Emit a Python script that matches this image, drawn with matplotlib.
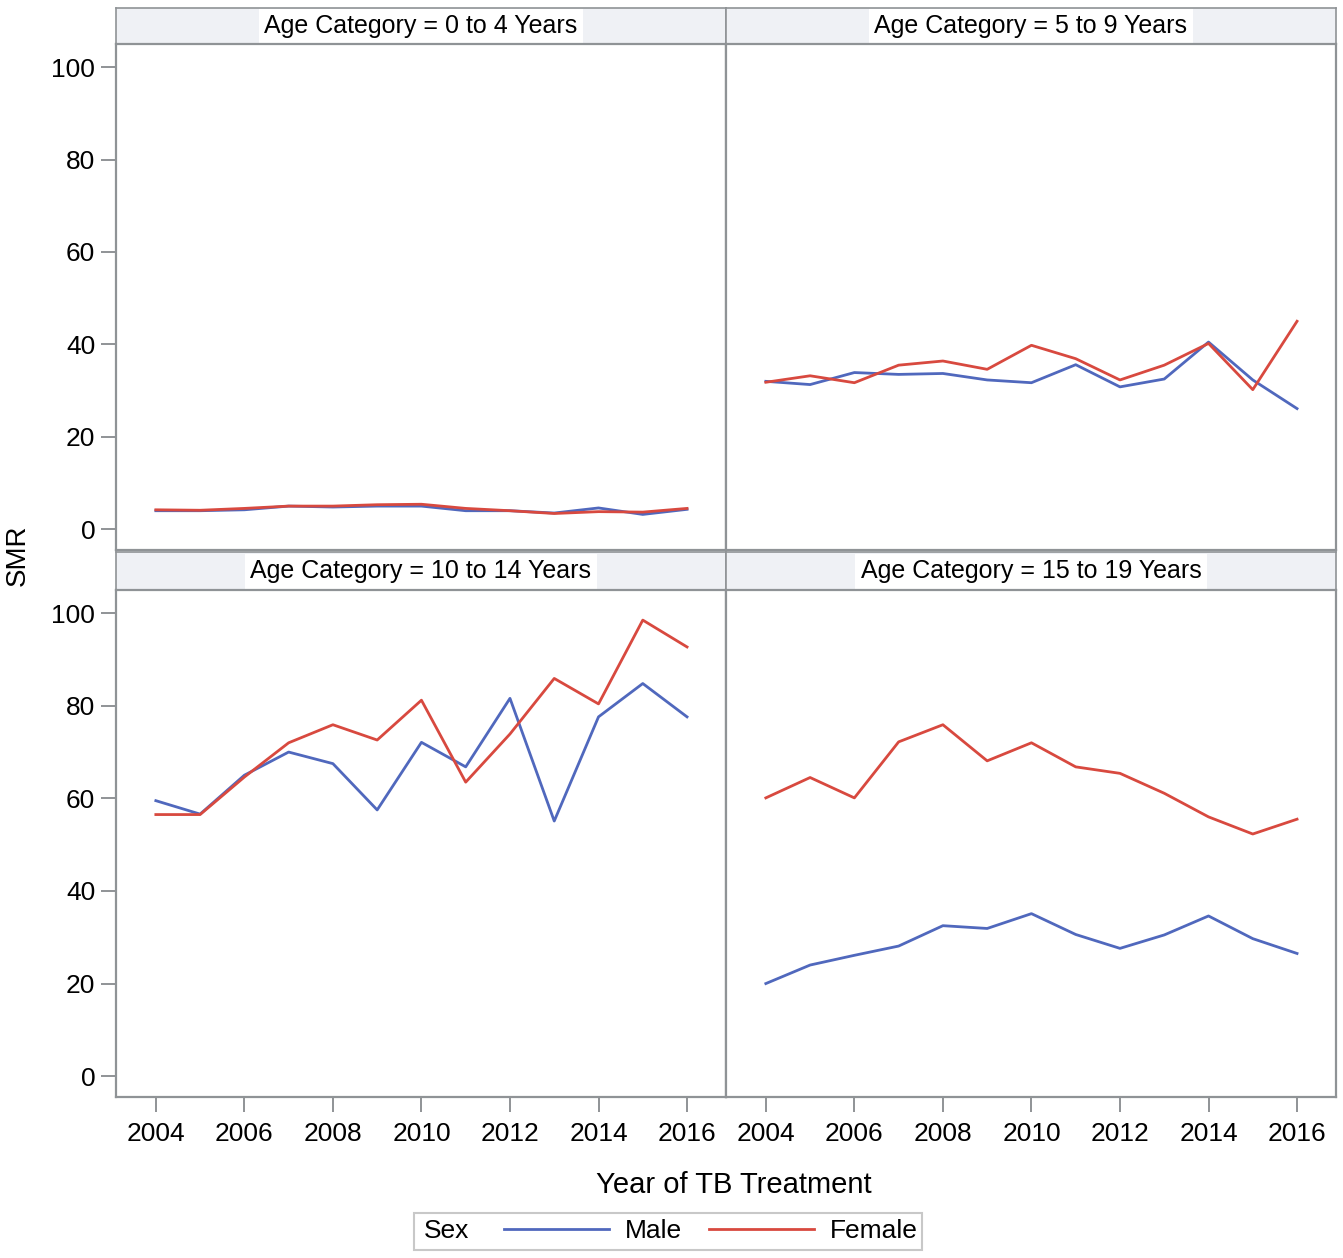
import matplotlib
matplotlib.use("Agg")
import matplotlib.pyplot as plt
from matplotlib.lines import Line2D
from matplotlib.patches import Rectangle

plt.rcParams["font.family"] = ["Liberation Sans", "DejaVu Sans"]

years = list(range(2004, 2017))
panels = ["0 to 4 Years", "5 to 9 Years", "10 to 14 Years", "15 to 19 Years"]

male_0_4 = [4.0, 4.0, 4.2, 5.0, 4.8, 5.0, 5.0, 4.0, 4.0, 3.5, 4.6, 3.2, 4.3]
female_0_4 = [4.2, 4.1, 4.5, 5.0, 5.0, 5.3, 5.4, 4.5, 4.0, 3.4, 3.8, 3.7, 4.5]
male_5_9 = [32.0, 31.3, 33.9, 33.5, 33.7, 32.3, 31.7, 35.6, 30.8, 32.5, 40.5, 32.3, 26.1]
female_5_9 = [31.8, 33.2, 31.7, 35.5, 36.4, 34.6, 39.8, 36.9, 32.3, 35.5, 40.2, 30.2, 45.0]
male_10_14 = [59.5, 56.6, 65.0, 70.0, 67.5, 57.5, 72.1, 66.8, 81.6, 55.1, 77.6, 84.8, 77.6]
female_10_14 = [56.5, 56.5, 64.6, 72.0, 75.9, 72.6, 81.2, 63.5, 73.9, 85.9, 80.4, 98.5, 92.7]
male_15_19 = [20.0, 24.0, 26.1, 28.1, 32.5, 31.9, 35.1, 30.6, 27.6, 30.5, 34.6, 29.7, 26.5]
female_15_19 = [60.1, 64.5, 60.1, 72.2, 75.9, 68.1, 72.0, 66.8, 65.4, 61.1, 56.0, 52.3, 55.5]

male = [male_0_4, male_5_9, male_10_14, male_15_19]
female = [female_0_4, female_5_9, female_10_14, female_15_19]

MALE_C = "#5068bd"
FEMALE_C = "#d8493f"
EDGE = "#8f9396"

W, H = 1343, 1258
fig = plt.figure(figsize=(W / 100, H / 100), dpi=100)


def px_box(x0, y0, x1, y1):
    return [x0 / W, 1 - y1 / H, (x1 - x0) / W, (y1 - y0) / H]


cols = [(116, 726), (726, 1336)]
rows = [((8, 44), (44, 550)), ((552, 590), (590, 1097))]

for i, name in enumerate(panels):
    r, c = divmod(i, 2)
    (hx0, hx1) = cols[c]
    (sy0, sy1), (py0, py1) = rows[r]

    strip = fig.add_axes(px_box(hx0, sy0, hx1, sy1))
    strip.set_facecolor("#eff1f5")
    strip.set_xticks([])
    strip.set_yticks([])
    for s in strip.spines.values():
        s.set_color(EDGE)
        s.set_linewidth(1.2)
    strip.text(0.5, 0.5, f"Age Category = {name}", ha="center", va="center",
               fontsize=18, transform=strip.transAxes,
               bbox=dict(facecolor="white", edgecolor="none", pad=4))

    ax = fig.add_axes(px_box(hx0, py0, hx1, py1))
    ax.plot(years, male[i], color=MALE_C, lw=2)
    ax.plot(years, female[i], color=FEMALE_C, lw=2)
    ax.set_xlim(2003.1, 2016.88)
    ax.set_ylim(-4.5, 105)
    ax.set_xticks(range(2004, 2017, 2))
    ax.set_yticks(range(0, 101, 20))
    for s in ax.spines.values():
        s.set_color(EDGE)
        s.set_linewidth(1.6)
    ax.tick_params(colors="#8f9396", labelcolor="black", labelsize=19,
                   length=11, width=1.4, pad=4)
    ax.tick_params(axis="x", pad=7)
    if c == 1:
        ax.tick_params(axis="y", left=False, labelleft=False)
    if r == 0:
        ax.tick_params(axis="x", bottom=False, labelbottom=False)

fig.text(18 / W, 1 - 555 / H, "SMR", rotation=90, ha="center", va="center", fontsize=20)
fig.text(734 / W, 1 - 1185 / H, "Year of TB Treatment", ha="center", va="center", fontsize=21)

# legend
fig.patches.append(Rectangle((414 / W, 1 - 1250 / H), (922 - 414) / W, 37 / H,
                             transform=fig.transFigure, facecolor="white",
                             edgecolor="#c8c8c8", lw=1.5))
fig.text(424 / W, 1 - 1231 / H, "Sex", ha="left", va="center", fontsize=19)
handles = [Line2D([], [], color=MALE_C, lw=2), Line2D([], [], color=FEMALE_C, lw=2)]
fig.legend(handles, ["Male", "Female"], loc="center", ncol=2,
           bbox_to_anchor=(711 / W, 1 - 1231 / H), frameon=False, fontsize=19,
           handlelength=4.0, handletextpad=0.6, columnspacing=1.0)

fig.savefig("out.png", dpi=100)
